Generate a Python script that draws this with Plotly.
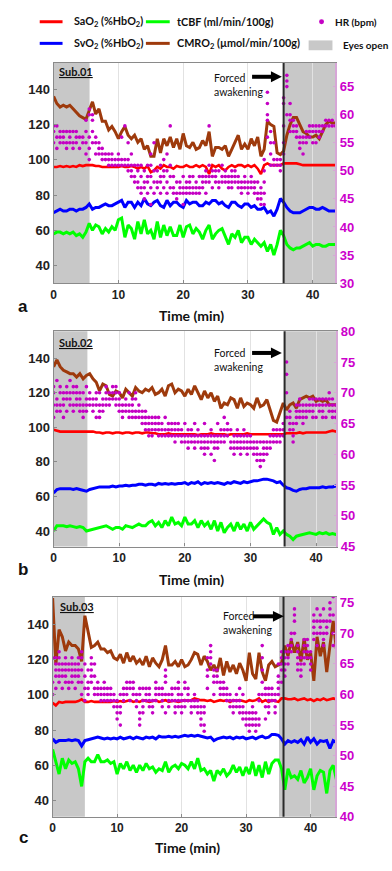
import plotly.graph_objects as go

W, H = 392, 871

# ---------------- Panel a (Sub.01) ----------------
cmro2_a = [136, 132, 130, 131, 130, 131, 129, 127, 125, 124,
           123, 128, 133, 126, 129, 122, 122, 117, 119, 116,
           112, 116, 119, 114, 112, 114, 110, 112, 106, 108,
           102, 102, 112, 104, 112, 108, 113, 107, 112, 106,
           115, 108, 107, 110, 106, 107, 111, 108, 116, 102,
           107, 107, 106, 108, 102, 106, 110, 114, 106, 109,
           106, 112, 108, 113, 102, 106, 122, 120, 119, 104,
           103, 105, 114, 120, 124, 124, 120, 116, 115, 113,
           113, 114, 112, 116, 120, 122, 121, 121]
sao2_a = [96, 96, 96.5, 96, 96.5, 96, 96.5, 96, 97, 96.5,
          97, 97, 97, 96.5, 96.5, 96, 96, 96, 96, 96,
          96, 96.5, 96, 96, 96.5, 96, 95, 96, 95, 96.5,
          93, 94, 96, 95, 97, 96, 96, 95, 96.5, 96,
          96, 97, 96, 96, 97, 96, 97, 96, 92, 97,
          96, 97, 95, 94, 96, 97, 96, 97, 97, 96,
          97, 96, 97, 95, 92, 97, 98, 97, 97, 97,
          97, 98, 98, 98, 98, 98, 97.5, 97, 97, 97,
          97, 97, 97, 97, 97, 97, 97, 97]
svo2_a = [70, 71, 72, 71, 71, 72, 72, 71, 72, 72,
          73, 75, 72, 73, 73, 74, 75, 74, 74, 75,
          76, 77, 73, 76, 76, 73, 76, 74, 78, 75,
          74, 76, 77, 74, 73, 77, 74, 76, 76, 74,
          73, 77, 75, 76, 76, 74, 74, 76, 75, 77,
          77, 75, 76, 74, 73, 76, 76, 74, 73, 75,
          75, 73, 74, 72, 72, 73, 70, 71, 68, 72,
          78, 76, 73, 71, 70, 70, 70, 71, 72, 73,
          73, 72, 72, 73, 72, 71, 71, 71]
tcbf_a = [58, 59, 59, 58, 59, 58, 59, 57, 58, 56,
          59, 64, 60, 63, 62, 58, 61, 59, 62, 60,
          66, 67, 56, 63, 61, 55, 65, 58, 66, 58,
          60, 55, 65, 56, 63, 57, 62, 57, 57, 63,
          56, 62, 63, 58, 61, 59, 55, 60, 63, 55,
          58, 60, 61, 56, 52, 58, 56, 60, 53, 56,
          56, 52, 55, 53, 51, 53, 48, 52, 46, 52,
          60, 57, 52, 50, 49, 50, 50, 51, 52, 53,
          51, 52, 52, 51, 51, 52, 52, 52]
hr_a = [[55, 57, 58], [54, 56, 58], [55, 56, 57], [55, 56, 57], [54, 55, 57],
        [55, 56, 57], [54, 55, 57], [55, 56, 57], [54, 56], [55, 56],
        [53, 55, 57, 59], [52, 54, 56, 60, 61], [55, 57, 59, 60], [53, 55, 56], [53, 54, 55],
        [52, 53, 54], [52, 53], [51, 52, 53], [51, 52, 53], [51, 52],
        [51, 52, 53], [51, 52, 56], [51, 52, 58], [50, 51, 52, 55], [49, 50, 51, 53],
        [48, 49, 51], [47, 48, 50, 51], [46, 47, 49, 51], [45, 47, 48, 50], [46, 48, 49, 51],
        [44, 47, 49, 51, 53], [46, 48, 50, 55], [47, 48, 50], [46, 48, 49, 51], [47, 49, 50, 52],
        [46, 48, 50, 53], [47, 49, 51, 58], [46, 47, 49], [45, 46, 48], [46, 47, 48],
        [44, 46, 47, 49], [46, 47, 48], [46, 47, 48, 49], [46, 47, 49], [46, 47, 48],
        [46, 47, 49], [47, 48, 49], [46, 48, 49, 50], [48, 49, 51, 58], [47, 49, 50],
        [48, 49, 50], [47, 48, 50], [48, 49, 51], [48, 49, 50], [47, 48, 49],
        [47, 48, 49, 50], [48, 49, 50], [47, 48, 49], [46, 47, 48], [47, 48, 49],
        [46, 47, 48], [47, 48, 49], [46, 47, 48], [45, 46, 48], [44, 45, 46, 47],
        [44, 46, 48, 50, 52], [56, 59, 60, 62, 64], [51, 53, 55, 57], [51, 52, 55], [51, 52],
        [50, 51, 52], [53, 55, 58, 62, 63], [60, 65, 66, 67], [57, 59, 60, 62], [57, 58, 59],
        [56, 57, 58], [54, 55, 56], [53, 55, 56], [55, 56, 57], [56, 57, 58],
        [55, 57, 58], [55, 57, 58], [56, 57, 58], [57, 58], [58, 59],
        [58, 59], [58, 59], [58]]
eyes_open_a = [[0, 5.55], [35.5, 43.5]]
awaken_a = 35.5

# ---------------- Panel b (Sub.02) ----------------
cmro2_b = [135, 139, 135, 133, 132, 131, 131, 129, 131, 128,
           130, 131, 128, 126, 121, 125, 124, 119, 118, 121,
           120, 117, 122, 120, 118, 123, 121, 120, 122, 121,
           123, 119, 120, 122, 118, 124, 125, 120, 122, 121,
           118, 122, 119, 124, 120, 116, 121, 117, 120, 115,
           118, 111, 114, 113, 117, 116, 111, 117, 112, 114,
           113, 111, 117, 112, 113, 116, 110, 104, 103, 108,
           114, 110, 113, 114, 111, 116, 117, 118, 117, 118,
           115, 116, 115, 116, 113, 113, 113, 113]
sao2_b = [98.5, 98, 97.5, 97.5, 97.5, 97.5, 97.5, 97.5, 97.5, 97.5,
          97.5, 97.5, 97.5, 97, 97, 96.5, 97, 97, 96.5, 97,
          97, 96.5, 97, 97, 96.5, 97, 97, 96.5, 97, 97,
          96.5, 96.5, 96, 96, 96, 96.5, 96, 96, 96, 96,
          96, 96, 96, 96, 95.5, 96, 96, 96, 96.5, 96,
          96, 96, 96, 95.5, 96, 96, 96, 96, 96, 96.5,
          96, 96, 96, 96, 96, 96, 96, 96, 96, 96,
          96, 96.5, 96.5, 96.5, 96.5, 97, 96.5, 97, 97, 97,
          97, 97, 97, 97, 97.5, 98, 97.5, 97]
svo2_b = [62, 64, 64.5, 64.5, 64.5, 64.5, 64, 64.5, 64, 63.5,
          63, 64, 64.5, 65, 65.5, 65.5, 65.5, 65.5, 66, 65.5,
          66, 66, 66.5, 66, 66.5, 66.5, 67, 67, 66.5, 67,
          67, 66.5, 67.5, 67, 67.5, 67, 67.5, 67, 67.5, 67.5,
          68, 67, 68, 67.5, 68.5, 67, 68, 67.5, 68, 67.5,
          68, 67.5, 67, 68, 67.5, 68.5, 68, 67.5, 68.5, 68,
          68.5, 69, 69, 69.5, 70, 70, 69.5, 69, 68, 68.5,
          66.5, 65, 64.5, 63.5, 63, 64, 64.5, 64.5, 65, 65,
          65, 65, 65.5, 65, 65.5, 65.5, 66, 66]
tcbf_b = [40, 43, 43, 43, 42.5, 43, 42.5, 42, 42.5, 42,
          40, 40.5, 41, 41.5, 42, 42.5, 43, 42, 41, 42,
          42, 41, 43, 42.5, 42, 43, 44, 43, 43, 45,
          46, 43, 45, 42, 46, 43, 48, 44, 45, 43,
          48, 44, 44, 46, 42, 46, 43, 45, 41, 46,
          40, 45, 39, 42, 44, 40, 45, 41, 44, 40,
          45, 41, 43, 45, 47, 45, 44, 38, 42, 38,
          40, 38, 37, 35, 37, 37.5, 38, 38.5, 39, 38.5,
          38, 39, 38.5, 39, 38, 38.5, 38, 38]
hr_b = [[66, 68, 70, 71], [67, 68, 69, 72], [67, 68, 70, 71], [66, 68, 69, 70], [67, 69, 70, 71],
        [68, 69, 70, 72], [67, 68, 70, 71], [68, 69, 70, 71], [67, 68, 69, 70], [66, 67, 68, 70],
        [67, 68, 69, 71], [68, 69, 70], [67, 68, 69], [66, 68, 69, 70], [66, 67, 68, 70],
        [67, 68, 69], [68, 69, 70, 71], [68, 69, 70], [69, 70, 71], [68, 69, 70, 71],
        [67, 68, 69, 70], [66, 67, 68], [67, 68, 69], [66, 67, 68, 70], [66, 67, 68, 69],
        [66, 67, 69, 70], [66, 67, 68], [65, 66, 67], [64, 65, 66, 67], [63, 64, 65, 66],
        [63, 64, 65, 66], [64, 65, 66], [63, 64, 65, 66], [63, 64, 65], [63, 64, 66],
        [63, 64, 65], [63, 64, 65], [62, 63, 64, 65], [63, 64, 65], [62, 63, 64],
        [62, 63, 65], [61, 62, 63, 64], [62, 63, 64], [61, 62, 63, 65], [62, 63, 64],
        [61, 62, 63], [60, 61, 62, 63, 65], [61, 62, 63], [60, 62, 63, 64], [59, 61, 62, 63],
        [61, 62, 63, 65], [62, 63, 64], [62, 63, 64, 66], [63, 64, 65], [61, 62, 64],
        [60, 61, 62, 63], [61, 62, 63, 64], [60, 61, 62, 63], [61, 62, 63, 64], [60, 61, 62, 63],
        [61, 62, 63], [60, 61, 62], [59, 60, 61, 62], [58, 59, 60, 62], [59, 60, 61, 62],
        [60, 61, 62], [61, 62, 63], [62, 63, 64], [62, 63, 64], [62, 63, 64],
        [63, 64, 65], [66, 70, 73, 75], [64, 65, 66, 67], [62, 63, 64, 65], [65, 66, 67, 68],
        [66, 67, 68, 69], [65, 66, 67, 68], [66, 67, 68], [67, 68, 69], [66, 67, 68, 69],
        [66, 68, 69], [67, 68, 69], [66, 67, 68, 69], [66, 68, 69], [67, 68, 69, 70],
        [66, 67, 68, 69], [66, 67, 68], [66, 67, 68]]
eyes_open_b = [[0, 5.15], [35.2, 43.1]]
awaken_b = 35.2

# ---------------- Panel c (Sub.03) ----------------
cmro2_c = [155, 117, 137, 133, 125, 130, 128, 128, 126, 119,
           145, 136, 127, 128, 130, 126, 126, 124, 125, 121,
           120, 123, 118, 124, 119, 122, 118, 120, 117, 122,
           116, 121, 118, 116, 120, 128, 117, 117, 119, 116,
           120, 116, 117, 120, 124, 123, 117, 122, 119, 114,
           117, 113, 121, 111, 119, 113, 117, 112, 118, 114,
           108, 124, 112, 109, 124, 113, 108, 117, 119, 116,
           117, 118, 128, 122, 131, 124, 130, 119, 132, 120,
           124, 108, 133, 122, 130, 113, 128, 142, 126]
sao2_c = [95.5, 94, 96, 95.5, 96, 96, 96, 96, 96.5, 97.5,
          96, 96, 96.5, 96, 96, 96, 96, 96, 96, 96.5,
          96, 96.5, 96, 96.5, 97, 96, 96.5, 96, 97, 96.5,
          96, 96.5, 97, 96, 96.5, 97, 96, 96.5, 96.5, 96,
          96.5, 97, 96.5, 97, 98, 97.5, 97, 97, 96.5, 97,
          96, 96.5, 97, 96.5, 97, 96, 97, 96.5, 97, 96.5,
          96, 97, 96.5, 97, 98, 96, 97, 96, 97, 96.5,
          96, 98, 98, 97.5, 97.5, 98, 97, 97.5, 98, 97,
          97.5, 96.5, 97.5, 97, 98, 97, 97.5, 98, 97.5]
svo2_c = [75, 73, 74, 74, 74, 74.5, 74, 74.5, 74, 71,
          74, 74.5, 75, 75.5, 76, 75.5, 75, 75.5, 75, 75.5,
          75, 76, 75, 75.5, 76, 75, 76, 75.5, 75, 76,
          75.5, 76, 75, 76.5, 76, 76, 76.5, 76, 76.5, 76,
          76.5, 77, 76.5, 77, 76.5, 77, 76.5, 76, 75.5, 76,
          74, 75, 75.5, 76, 75.5, 76, 75, 76, 75.5, 76,
          75, 75.5, 76, 75, 76, 76.5, 75.5, 76, 77.5, 77.5,
          77, 75, 72, 74, 73, 74, 73, 74.5, 72, 76,
          73, 75, 72, 74, 73.5, 74, 69.5, 74, 73]
tcbf_c = [69, 62, 55, 64, 58, 63, 61, 62, 58, 48,
          62, 64, 62, 62, 66, 62, 62, 63, 61, 62,
          55, 61, 58, 62, 57, 60, 56, 60, 57, 61,
          58, 59, 56, 58, 57, 62, 56, 59, 60, 58,
          61, 60, 58, 62, 58, 64, 57, 58, 55, 57,
          51, 57, 55, 58, 54, 56, 60, 56, 59, 54,
          59, 55, 62, 54, 60, 53, 62, 55, 61, 63,
          63, 58, 46, 58, 53, 54, 52, 57, 50, 53,
          58, 46, 54, 57, 56, 44, 57, 60, 52]
hr_c = [[60, 62, 66], [61, 63, 64, 65, 66], [62, 63, 64, 65, 66, 67], [61, 63, 64, 65], [62, 63, 64, 65, 66],
        [61, 62, 64, 65], [62, 63, 64, 65, 66], [61, 63, 64, 65], [62, 63, 64, 65, 66], [60, 62, 64, 66, 67],
        [59, 61, 63, 65], [60, 61, 62, 64], [62, 63, 64, 65, 66], [60, 61, 63, 65], [60, 61, 62],
        [59, 60, 61], [59, 60, 61, 62], [59, 60, 61], [59, 60, 61], [58, 59, 60],
        [56, 57, 58, 59], [55, 57, 58, 60], [59, 60, 61], [60, 61, 62], [59, 61, 62],
        [60, 61, 62], [58, 59, 60], [55, 56, 57, 60, 61], [57, 58, 59, 61], [59, 60, 61],
        [58, 59, 60, 61], [57, 58, 59], [59, 60, 61, 62], [60, 61], [58, 59, 60, 61],
        [57, 60, 62, 63, 64], [58, 59, 60], [59, 60, 61], [57, 58, 59, 61], [58, 59, 60, 61, 62],
        [57, 58, 59, 60], [58, 59, 61, 62], [59, 60, 61], [57, 58, 59], [58, 59, 60],
        [57, 58, 59], [55, 56, 57, 58], [54, 55, 57, 58], [61, 63, 64, 66], [65, 66, 67, 68],
        [60, 62, 63, 64], [62, 63, 64], [60, 61, 62], [60, 61, 62], [59, 60, 61],
        [58, 59, 60], [57, 58, 59], [58, 59, 60], [57, 58, 59, 61], [56, 57, 58, 60],
        [55, 56, 57], [54, 55, 56, 57], [55, 56, 57, 58], [54, 55, 56, 57], [55, 56, 59, 60],
        [60, 62, 64, 66, 68], [56, 58, 60, 61], [57, 58, 59, 60, 61], [59, 60, 61], [57, 58, 59, 60],
        [60, 61, 62, 63, 65], [62, 64, 65, 66, 67], [63, 64, 65, 66, 67], [65, 66, 67, 68], [67, 68, 69, 70],
        [70, 72, 73, 74], [64, 65, 66, 67, 68], [63, 64, 65, 66], [65, 66, 67, 68, 69], [66, 67, 68, 69],
        [64, 65, 66, 67], [69, 70, 71, 72, 73], [68, 70, 72, 74], [70, 71, 72, 73], [68, 69, 70, 72, 74],
        [70, 71, 72], [72, 73, 74, 75], [68, 70, 73, 76], [69, 70]]
eyes_open_c = [[0, 5.0], [35.1, 43.85]]
awaken_c = 35.8

# axis settings
y_left_ticks = [40, 60, 80, 100, 120, 140]
x_ticks = [0, 10, 20, 30, 40]
hr_ticks_a = [30, 35, 40, 45, 50, 55, 60, 65]
hr_ticks_b = [45, 50, 55, 60, 65, 70, 75, 80]
hr_ticks_c = [40, 45, 50, 55, 60, 65, 70, 75]

C_SA = "#FF0000"
C_SV = "#0000FF"
C_CBF = "#00FF00"
C_CM = "#9E3A0C"
C_HR = "#C400C4"
C_GRAY = "#C8C8C8"

def px(x):
    return x / W

def py(y):
    return 1 - y / H

panels = [
    dict(cm=cmro2_a, sa=sao2_a, sv=svo2_a, cbf=tcbf_a, hr=hr_a, eo=eyes_open_a, aw=awaken_a,
         xr=[0, 43.5], yl=[30, 155], yr=[30, 69.2], hrt=hr_ticks_a,
         dom_x=[51, 335], dom_y=[57, 281], sub="Sub.01", lab="a",
         sub_xy=(54, 66), forced_xy=(211, 73), arrow_y=71, arrow_x=(251, 281),
         lab_xy=(20, 305), time_xy=(190, 314)),
    dict(cm=cmro2_b, sa=sao2_b, sv=svo2_b, cbf=tcbf_b, hr=hr_b, eo=eyes_open_b, aw=awaken_b,
         xr=[0, 43.1], yl=[31, 155.5], yr=[45, 80], hrt=hr_ticks_b,
         dom_x=[51, 336], dom_y=[330, 549], sub="Sub.02", lab="b",
         sub_xy=(54, 341), forced_xy=(211, 353), arrow_y=352, arrow_x=(251, 281),
         lab_xy=(20, 572), time_xy=(190, 583)),
    dict(cm=cmro2_c, sa=sao2_c, sv=svo2_c, cbf=tcbf_c, hr=hr_c, eo=eyes_open_c, aw=awaken_c,
         xr=[0, 43.85], yl=[30.7, 155.8], yr=[40, 76], hrt=hr_ticks_c,
         dom_x=[50, 335], dom_y=[600, 824], sub="Sub.03", lab="c",
         sub_xy=(55, 610), forced_xy=(220, 621), arrow_y=620, arrow_x=(252, 283),
         lab_xy=(21, 845), time_xy=(186, 855)),
]

fig = go.Figure()
shapes = []
annotations = []
layout_axes = {}

tick_font = dict(family="Liberation Sans", size=12, color="#222222", weight="bold")
hr_font = dict(family="Liberation Sans", size=13, color="#CC00CC", weight="bold")

for i, p in enumerate(panels):
    n = i + 1
    xa = "x" if n == 1 else f"x{n}"
    yl_id = 2 * n - 1
    yr_id = 2 * n
    ya_l = "y" if yl_id == 1 else f"y{yl_id}"
    ya_r = f"y{yr_id}"
    xkey = "xaxis" if n == 1 else f"xaxis{n}"
    ylkey = "yaxis" if yl_id == 1 else f"yaxis{yl_id}"
    yrkey = f"yaxis{yr_id}"

    t = [k * 0.5 for k in range(len(p["cm"]))]

    for vals, col, w in [(p["sa"], C_SA, 2.6), (p["sv"], C_SV, 3), (p["cbf"], C_CBF, 3), (p["cm"], C_CM, 3)]:
        fig.add_trace(go.Scatter(x=t, y=vals, mode="lines", line=dict(color=col, width=w),
                                 xaxis=xa, yaxis=ya_l, showlegend=False, hoverinfo="skip"))
    hx, hy = [], []
    for k, vs in enumerate(p["hr"]):
        for v in vs:
            hx.append(k * 0.5)
            hy.append(v)
    fig.add_trace(go.Scatter(x=hx, y=hy, mode="markers", marker=dict(color=C_HR, size=3.6),
                             xaxis=xa, yaxis=ya_r, showlegend=False, hoverinfo="skip"))

    dx = [px(p["dom_x"][0]), px(p["dom_x"][1])]
    dy = [py(p["dom_y"][1]), py(p["dom_y"][0])]
    layout_axes[xkey] = dict(domain=dx, range=p["xr"], anchor=ya_l, tickvals=x_ticks,
                             showgrid=True, gridcolor="#E2E2E2", gridwidth=1, zeroline=False,
                             showline=True, linecolor="#8A8A8A", linewidth=1.2, mirror=True,
                             ticks="inside", ticklen=3, tickcolor="#8A8A8A",
                             tickfont=tick_font)
    layout_axes[ylkey] = dict(domain=dy, range=p["yl"], anchor=xa, tickvals=y_left_ticks,
                              showgrid=False, zeroline=False, showline=True, linecolor="#8A8A8A",
                              linewidth=1.2, ticks="inside", ticklen=3, tickcolor="#8A8A8A",
                              tickfont=dict(family="Liberation Sans", size=13, color="#222222", weight="bold"))
    layout_axes[yrkey] = dict(domain=dy, range=p["yr"], anchor=xa, overlaying=ya_l, side="right",
                              tickvals=p["hrt"], showgrid=False, zeroline=False, showline=True,
                              linecolor="#D7A6D7", linewidth=1.5, ticks="inside", ticklen=3,
                              tickcolor="#D7A6D7", tickfont=hr_font)

    for (a0, a1) in p["eo"]:
        shapes.append(dict(type="rect", xref=xa, yref=f"{ya_l} domain", x0=a0, x1=a1, y0=0, y1=1,
                           fillcolor=C_GRAY, line=dict(width=0), layer="below"))
    shapes.append(dict(type="line", xref=xa, yref=f"{ya_l} domain", x0=p["aw"], x1=p["aw"], y0=0, y1=1,
                       line=dict(color="#2A2A2A", width=2), layer="above"))

    # subject label
    annotations.append(dict(x=px(p["sub_xy"][0]), y=py(p["sub_xy"][1]), xref="paper", yref="paper",
                            text=f"<b><span style='text-decoration:underline'>{p['sub']}</span></b>",
                            showarrow=False, xanchor="left", yanchor="middle",
                            font=dict(family="Lato", size=11, color="#111111")))
    # forced awakening text
    annotations.append(dict(x=px(p["forced_xy"][0]), y=py(p["forced_xy"][1] + 6), xref="paper", yref="paper",
                            text="Forced<br>awakening", showarrow=False, xanchor="left", yanchor="middle",
                            align="left", font=dict(family="Lato", size=10.5, color="#111111")))
    # arrow (shaft + head) as shapes
    ax0, ax1 = p["arrow_x"]
    ay = p["arrow_y"]
    shapes.append(dict(type="line", xref="paper", yref="paper", x0=px(ax0), x1=px(ax1 - 9),
                       y0=py(ay), y1=py(ay), line=dict(color="#000000", width=4)))
    shapes.append(dict(type="path", xref="paper", yref="paper",
                       path=f"M {px(ax1 - 11)},{py(ay - 5.5)} L {px(ax1)},{py(ay)} L {px(ax1 - 11)},{py(ay + 5.5)} Z",
                       fillcolor="#000000", line=dict(width=0)))
    # panel letter and axis title
    annotations.append(dict(x=px(p["lab_xy"][0]), y=py(p["lab_xy"][1]), xref="paper", yref="paper",
                            text=f"<b>{p['lab']}</b>", showarrow=False, xanchor="center", yanchor="middle",
                            font=dict(family="Liberation Sans", size=17, color="#111111")))
    annotations.append(dict(x=px(p["time_xy"][0]), y=py(p["time_xy"][1]), xref="paper", yref="paper",
                            text="<b>Time (min)</b>", showarrow=False, xanchor="center", yanchor="middle",
                            font=dict(family="Lato", size=14, color="#111111")))

# ---------------- Legend (drawn manually) ----------------
legend_lines = [
    (37, 60, 15, C_SA, "SaO<sub>2</sub> (%HbO<sub>2</sub>)", 70),
    (37, 60, 37, C_SV, "SvO<sub>2</sub> (%HbO<sub>2</sub>)", 70),
    (144, 168, 15, C_CBF, "tCBF (ml/min/100g)", 173),
    (144, 168, 37, C_CM, "CMRO<sub>2</sub> (µmol/min/100g)", 173),
]
for x0, x1, yy, col, txt, tx in legend_lines:
    shapes.append(dict(type="line", xref="paper", yref="paper", x0=px(x0), x1=px(x1), y0=py(yy), y1=py(yy),
                       line=dict(color=col, width=3)))
    annotations.append(dict(x=px(tx), y=py(yy), xref="paper", yref="paper", text=f"<b>{txt}</b>",
                            showarrow=False, xanchor="left", yanchor="middle",
                            font=dict(family="Lato", size=10.8, color="#111111")))
shapes.append(dict(type="circle", xref="paper", yref="paper", x0=px(318.5), x1=px(323.5), y0=py(17.5), y1=py(12.5),
                   fillcolor=C_HR, line=dict(width=0)))
annotations.append(dict(x=px(333), y=py(15), xref="paper", yref="paper", text="<b>HR (bpm)</b>",
                        showarrow=False, xanchor="left", yanchor="middle",
                        font=dict(family="Lato", size=10, color="#111111")))
shapes.append(dict(type="rect", xref="paper", yref="paper", x0=px(308), x1=px(332), y0=py(44), y1=py(34),
                   fillcolor=C_GRAY, line=dict(width=0)))
annotations.append(dict(x=px(341), y=py(39), xref="paper", yref="paper", text="<b>Eyes open</b>",
                        showarrow=False, xanchor="left", yanchor="middle",
                        font=dict(family="Lato", size=10, color="#111111")))

fig.update_layout(width=W, height=H, margin=dict(l=0, r=0, t=0, b=0),
                  paper_bgcolor="white", plot_bgcolor="white", showlegend=False,
                  shapes=shapes, annotations=annotations, **layout_axes)

fig.write_html("out.html", config={"displayModeBar": False},
               post_script="document.body.style.margin='0';")
